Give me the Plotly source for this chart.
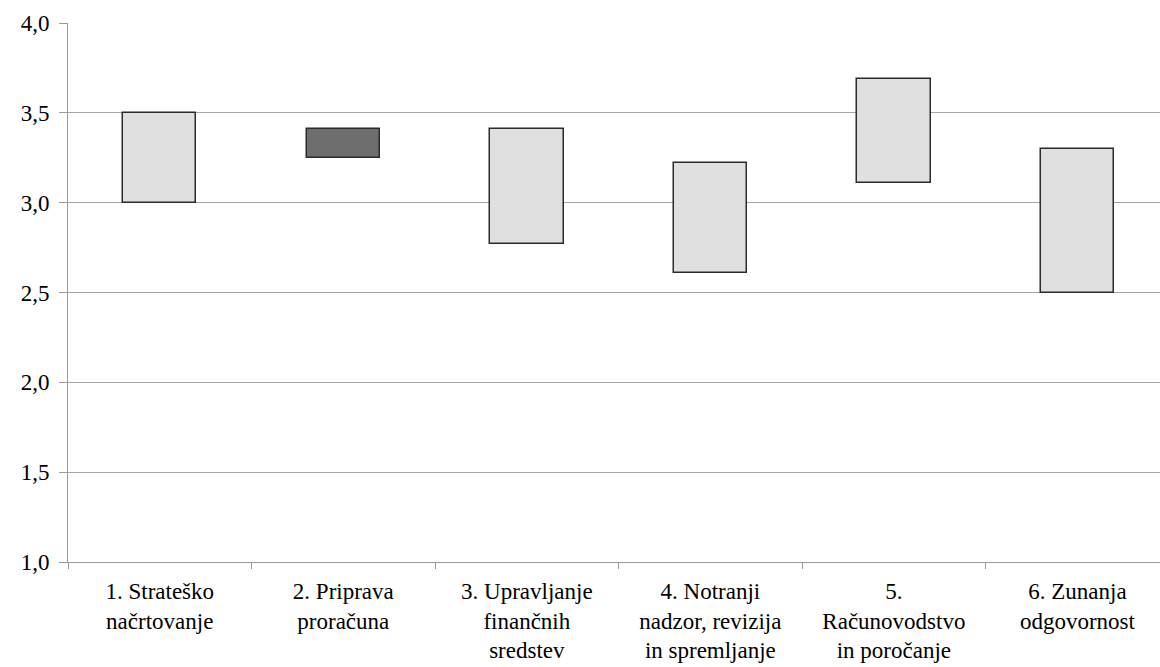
import plotly.graph_objects as go

# Assessment areas and the two scores defining each floating bar
categories = [
    "1. Strateško<br>načrtovanje",
    "2. Priprava<br>proračuna",
    "3. Upravljanje<br>finančnih<br>sredstev",
    "4. Notranji<br>nadzor, revizija<br>in spremljanje",
    "5.<br>Računovodstvo<br>in poročanje",
    "6. Zunanja<br>odgovornost",
]
first_score = [3.00, 3.41, 2.77, 2.61, 3.11, 2.50]
last_score = [3.50, 3.25, 3.41, 3.22, 3.69, 3.30]

y_ticks = [1.0, 1.5, 2.0, 2.5, 3.0, 3.5, 4.0]
y_tick_labels = ["1,0", "1,5", "2,0", "2,5", "3,0", "3,5", "4,0"]

UP_FILL = "#e0e0e0"
DOWN_FILL = "#6e6e6e"
SERIF = "Liberation Serif"
LABEL_STYLE = f"font-family:'{SERIF}', serif;fill:#000000;color:#000000"


def styled(label):
    """Wrap every line of a tick label in a serif, black span."""
    return "<br>".join(
        f'<span style="{LABEL_STYLE}">{line}</span>' for line in label.split("<br>")
    )


bases = [min(a, b) for a, b in zip(first_score, last_score)]
heights = [abs(b - a) for a, b in zip(first_score, last_score)]
fills = [UP_FILL if b >= a else DOWN_FILL for a, b in zip(first_score, last_score)]

fig = go.Figure(
    go.Bar(
        x=categories,
        y=heights,
        base=bases,
        width=0.4,
        marker=dict(color=fills, line=dict(color="#2b2b2b", width=1.5)),
        hoverinfo="skip",
    )
)

fig.update_layout(
    width=1160,
    height=667,
    margin=dict(l=68, r=0, t=23, b=105),
    plot_bgcolor="white",
    paper_bgcolor="white",
    showlegend=False,
    font=dict(family=SERIF, size=23),
    bargap=0,
)

fig.update_xaxes(
    type="category",
    range=[-0.5, 5.45],
    tickvals=categories,
    ticktext=[styled(c) for c in categories],
    showgrid=False,
    showline=True,
    linecolor="#9a9a9a",
    linewidth=1,
    ticks="outside",
    tickson="boundaries",
    ticklen=6,
    tickwidth=1,
    tickcolor="#9a9a9a",
    ticklabelstandoff=8,
    tickfont=dict(family=SERIF, size=23),
)

fig.update_yaxes(
    range=[1.0, 4.0],
    tickvals=y_ticks,
    ticktext=[styled(t) for t in y_tick_labels],
    showgrid=True,
    gridcolor="#a6a6a6",
    gridwidth=1,
    showline=True,
    linecolor="#9a9a9a",
    linewidth=1,
    ticks="outside",
    ticklen=8,
    tickwidth=1,
    tickcolor="#9a9a9a",
    ticklabelstandoff=5,
    tickfont=dict(family=SERIF, size=23),
    zeroline=False,
)

fig.write_html("out.html")
